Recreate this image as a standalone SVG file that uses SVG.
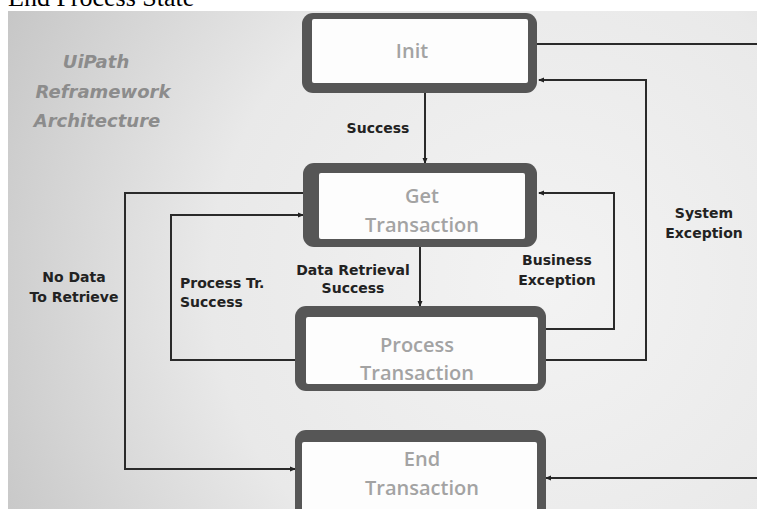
<svg xmlns="http://www.w3.org/2000/svg" width="757" height="509" viewBox="0 0 757 509">
<defs>
<radialGradient id="bg" cx="540" cy="280" r="600" gradientUnits="userSpaceOnUse">
<stop offset="0" stop-color="#f3f3f3"/>
<stop offset="0.55" stop-color="#e9e9e9"/>
<stop offset="1" stop-color="#c6c6c6"/>
</radialGradient>
<marker id="arr" markerWidth="6" markerHeight="6" refX="5" refY="3" orient="auto" markerUnits="userSpaceOnUse">
<path d="M0,0.5 L6,3 L0,5.5 Z" fill="#222"/>
</marker>
<style>
.outer{fill:#565656}
.inner{fill:#fdfdfd}
.nl{font-family:"Open Sans","DejaVu Sans",sans-serif;font-size:20px;font-weight:600;fill:#a3a3a3;text-anchor:middle}
.el{font-family:"DejaVu Sans",sans-serif;font-size:14px;font-weight:bold;fill:#222}
.c{fill:none;stroke:#2a2a2a;stroke-width:2}
.ttl{font-family:"DejaVu Sans",sans-serif;font-size:18px;font-weight:bold;font-style:italic;fill:#8c8c8c;text-anchor:middle}
</style>
</defs>
<rect width="757" height="509" fill="#ffffff"/>
<text x="8" y="6" font-family="Liberation Serif, serif" font-size="26" fill="#000">End Process State</text>
<rect x="8" y="11" width="749" height="498" fill="url(#bg)"/>

<g id="title">
<text class="ttl" x="96" y="68">UiPath</text>
<text class="ttl" x="103" y="98">Reframework</text>
<text class="ttl" x="97" y="127">Architecture</text>
</g>

<g id="connectors">
<path class="c" d="M537 44 H757"/>
<path class="c" d="M546 360 H646 V80 H539" marker-end="url(#arr)"/>
<path class="c" d="M546 329 H614 V193 H539" marker-end="url(#arr)"/>
<path class="c" d="M425 93 V163" marker-end="url(#arr)"/>
<path class="c" d="M420 247 V306" marker-end="url(#arr)"/>
<path class="c" d="M295 360 H171 V215 H303" marker-end="url(#arr)"/>
<path class="c" d="M303 193 H125 V469 H295" marker-end="url(#arr)"/>
<path class="c" d="M757 478 H546" marker-end="url(#arr)"/>
<text class="el" x="378" y="133" text-anchor="middle">Success</text>
<text class="el" x="353" y="275" text-anchor="middle">Data Retrieval</text>
<text class="el" x="353" y="293" text-anchor="middle">Success</text>
<text class="el" x="180" y="288">Process Tr.</text>
<text class="el" x="180" y="307">Success</text>
<text class="el" x="74" y="282" text-anchor="middle">No Data</text>
<text class="el" x="74" y="302" text-anchor="middle">To Retrieve</text>
<text class="el" x="557" y="265" text-anchor="middle">Business</text>
<text class="el" x="557" y="285" text-anchor="middle">Exception</text>
<text class="el" x="704" y="218" text-anchor="middle">System</text>
<text class="el" x="704" y="238" text-anchor="middle">Exception</text>
</g>

<g id="init">
<rect class="outer" x="302" y="13" width="235" height="80" rx="11"/>
<rect class="inner" x="312" y="19" width="216" height="64" rx="2"/>
<text class="nl" x="412" y="58">Init</text>
</g>
<g id="get-transaction">
<rect class="outer" x="303" y="163" width="234" height="84" rx="11"/>
<rect class="inner" x="319" y="173" width="206" height="66" rx="2"/>
<text class="nl" x="422" y="203">Get</text>
<text class="nl" x="422" y="232">Transaction</text>
</g>
<g id="process-transaction">
<rect class="outer" x="295" y="306" width="251" height="85" rx="11"/>
<rect class="inner" x="306" y="317" width="232" height="67" rx="2"/>
<text class="nl" x="417" y="352">Process</text>
<text class="nl" x="417" y="380">Transaction</text>
</g>
<g id="end-transaction">
<rect class="outer" x="295" y="430" width="251" height="95" rx="11"/>
<rect class="inner" x="302" y="442" width="235" height="80" rx="2"/>
<text class="nl" x="422" y="466">End</text>
<text class="nl" x="422" y="495">Transaction</text>
</g>
</svg>
